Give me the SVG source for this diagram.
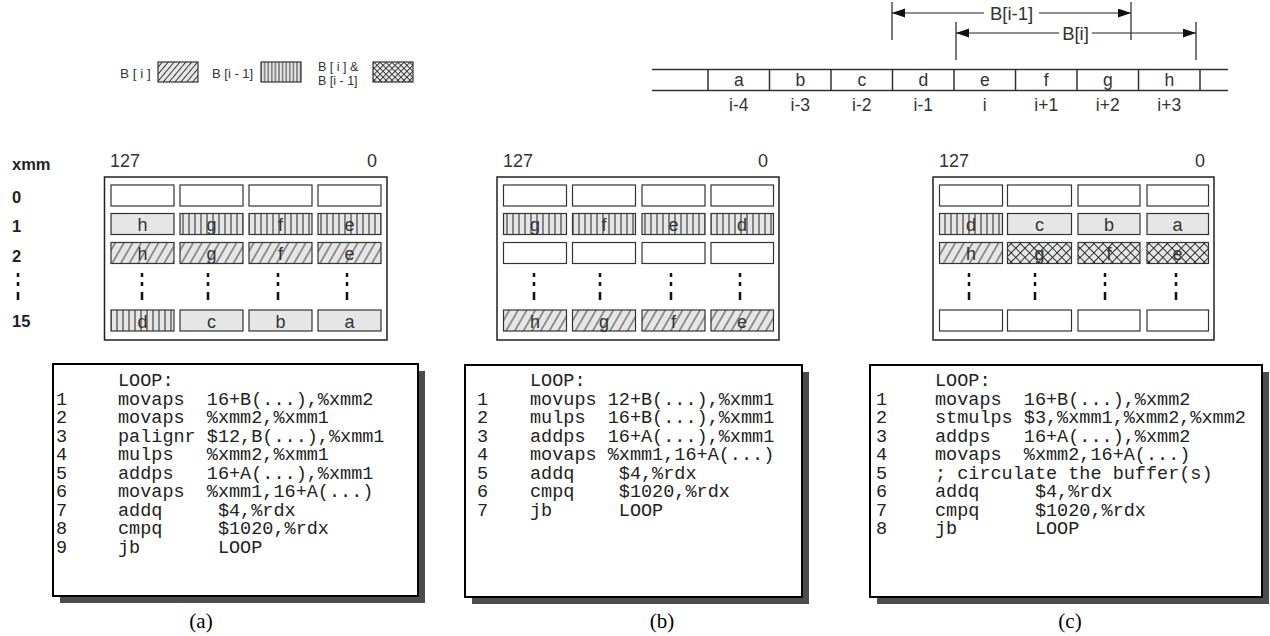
<svg xmlns="http://www.w3.org/2000/svg" width="1270" height="636" viewBox="0 0 1270 636">
<style>
.lbl{font-family:"Liberation Sans",Arial,sans-serif;fill:#333}
.leg{font-size:13.5px}
.top{font-size:17.5px;text-anchor:middle}
.arr{font-size:18.5px;text-anchor:middle}
.bit{font-size:18px}
.rl{font-family:"Liberation Sans",Arial,sans-serif;font-weight:bold;font-size:16.5px;fill:#222}
.ct{font-family:"Liberation Sans",Arial,sans-serif;font-size:18px;fill:#333;text-anchor:middle}
.e{fill:#fff;stroke:#333;stroke-width:1.2}
.g{fill:#e6e6e6;stroke:#333;stroke-width:1.2}
.v{fill:url(#vs);stroke:#333;stroke-width:1.2}
.d{fill:url(#dh);stroke:#333;stroke-width:1.2}
.x{fill:url(#xh);stroke:#333;stroke-width:1.2}
.panel{fill:#fff;stroke:#222;stroke-width:1.5}
.dots{stroke:#111;stroke-width:2.5}
.code{font-family:"Liberation Mono","Courier New",monospace;font-size:18.5px;fill:#222;white-space:pre}
.box{fill:#fff;stroke:#000;stroke-width:2}
.shadow{fill:#4d4d4d}
.cap{font-family:"Liberation Serif","Times New Roman",serif;font-size:21px;fill:#000;text-anchor:middle}
.ln{stroke:#333;stroke-width:1.5;fill:none}
.thin{stroke:#222;stroke-width:1.2;fill:none}
</style>
<defs>
<pattern id="vs" patternUnits="userSpaceOnUse" width="6" height="10"><rect width="6" height="10" fill="#e6e6e6"/><line x1="3" y1="0" x2="3" y2="10" stroke="#222" stroke-width="1"/></pattern>
<pattern id="dh" patternUnits="userSpaceOnUse" width="7.5" height="8" patternTransform="rotate(30)"><rect width="7.5" height="8" fill="#e6e6e6"/><line x1="3.75" y1="0" x2="3.75" y2="8" stroke="#222" stroke-width="0.9"/></pattern>
<pattern id="xh" patternUnits="userSpaceOnUse" width="6.5" height="6.5" patternTransform="rotate(45)"><rect width="6.5" height="6.5" fill="#e6e6e6"/><path d="M3.25,0V6.5M0,3.25H6.5" stroke="#222" stroke-width="0.9"/></pattern>
<pattern id="vsL" patternUnits="userSpaceOnUse" width="3.6" height="10"><rect width="3.6" height="10" fill="#e6e6e6"/><line x1="1.8" y1="0" x2="1.8" y2="10" stroke="#222" stroke-width="0.9"/></pattern>
<pattern id="dhL" patternUnits="userSpaceOnUse" width="4.5" height="8" patternTransform="rotate(40)"><rect width="4.5" height="8" fill="#e6e6e6"/><line x1="2.25" y1="0" x2="2.25" y2="8" stroke="#222" stroke-width="0.9"/></pattern>
<pattern id="xhL" patternUnits="userSpaceOnUse" width="4.2" height="4.2" patternTransform="rotate(45)"><rect width="4.2" height="4.2" fill="#e6e6e6"/><path d="M2.1,0V4.2M0,2.1H4.2" stroke="#222" stroke-width="0.8"/></pattern>
<marker id="ah" markerUnits="userSpaceOnUse" markerWidth="14" markerHeight="10" refX="13" refY="4.5" orient="auto-start-reverse"><path d="M0,0L13,4.5L0,9z" fill="#111"/></marker>
</defs>

<g id="legend">
<text class="lbl leg" x="120" y="77.5">B [ i ]</text>
<rect x="158" y="62" width="40" height="20" fill="url(#dhL)" stroke="#333" stroke-width="1.2"/>
<text class="lbl" x="212" y="77.5" font-size="13">B [i - 1]</text>
<rect x="261" y="62" width="40" height="20" fill="url(#vsL)" stroke="#333" stroke-width="1.2"/>
<text class="lbl" x="318" y="70.5" font-size="12.5">B [ i ] &amp;</text>
<text class="lbl" x="318" y="85" font-size="12.5">B [i - 1]</text>
<rect x="373" y="62" width="40" height="20" fill="url(#xhL)" stroke="#333" stroke-width="1.2"/>
</g>

<g id="array">
<line class="ln" x1="652" y1="69.5" x2="1228" y2="69.5"/>
<line class="ln" x1="652" y1="90.5" x2="1228" y2="90.5"/>
<path class="ln" d="M708,69.5V90.5M769.5,69.5V90.5M831,69.5V90.5M892.5,69.5V90.5M954,69.5V90.5M1015.5,69.5V90.5M1077,69.5V90.5M1138.5,69.5V90.5M1200,69.5V90.5"/>
<text class="lbl top" x="738.75" y="86">a</text>
<text class="lbl top" x="800.25" y="86">b</text>
<text class="lbl top" x="861.75" y="86">c</text>
<text class="lbl top" x="923.25" y="86">d</text>
<text class="lbl top" x="984.75" y="86">e</text>
<text class="lbl top" x="1046.25" y="86">f</text>
<text class="lbl top" x="1107.75" y="86">g</text>
<text class="lbl top" x="1169.25" y="86">h</text>
<text class="lbl top" x="738.75" y="111">i-4</text>
<text class="lbl top" x="800.25" y="111">i-3</text>
<text class="lbl top" x="861.75" y="111">i-2</text>
<text class="lbl top" x="923.25" y="111">i-1</text>
<text class="lbl top" x="984.75" y="111">i</text>
<text class="lbl top" x="1046.25" y="111">i+1</text>
<text class="lbl top" x="1107.75" y="111">i+2</text>
<text class="lbl top" x="1169.25" y="111">i+3</text>
</g>

<g id="connectors">
<line class="thin" x1="892" y1="2" x2="892" y2="40"/>
<line class="thin" x1="1131" y1="2" x2="1131" y2="40"/>
<line class="thin" x1="956" y1="22" x2="956" y2="60"/>
<line class="thin" x1="1196" y1="22" x2="1196" y2="60"/>
<line class="thin" x1="892" y1="13" x2="1131" y2="13" marker-start="url(#ah)" marker-end="url(#ah)"/>
<rect x="984" y="2" width="55" height="20" fill="#fff"/>
<text class="lbl arr" x="1011.5" y="20">B[i-1]</text>
<line class="thin" x1="956" y1="33" x2="1196" y2="33" marker-start="url(#ah)" marker-end="url(#ah)"/>
<rect x="1059" y="22" width="33" height="20" fill="#fff"/>
<text class="lbl arr" x="1075.5" y="40">B[i]</text>
</g>

<g id="rowlabels">
<text class="rl" x="12" y="170">xmm</text>
<text class="rl" x="12" y="203">0</text>
<text class="rl" x="12" y="232">1</text>
<text class="rl" x="12" y="261.5">2</text>
<path class="dots" d="M18,273V277M18,282V286M18,292V300"/>
<text class="rl" x="12" y="327">15</text>
</g>

<g id="panel-a">
<text class="lbl bit" x="110" y="167">127</text>
<text class="lbl bit" x="377" y="167" text-anchor="end">0</text>
<rect class="panel" x="104.5" y="177" width="282.5" height="163"/>
<rect class="e" x="111" y="185" width="63" height="21"/><rect class="e" x="180" y="185" width="63" height="21"/><rect class="e" x="249" y="185" width="63" height="21"/><rect class="e" x="318" y="185" width="63" height="21"/>
<rect class="g" x="111" y="213.5" width="63" height="21"/><rect class="v" x="180" y="213.5" width="63" height="21"/><rect class="v" x="249" y="213.5" width="63" height="21"/><rect class="v" x="318" y="213.5" width="63" height="21"/>
<text class="ct" x="142.5" y="231">h</text><text class="ct" x="211.5" y="231">g</text><text class="ct" x="280.5" y="231">f</text><text class="ct" x="349.5" y="231">e</text>
<rect class="d" x="111" y="242.5" width="63" height="21"/><rect class="d" x="180" y="242.5" width="63" height="21"/><rect class="d" x="249" y="242.5" width="63" height="21"/><rect class="d" x="318" y="242.5" width="63" height="21"/>
<text class="ct" x="142.5" y="260">h</text><text class="ct" x="211.5" y="260">g</text><text class="ct" x="280.5" y="260">f</text><text class="ct" x="349.5" y="260">e</text>
<path class="dots" d="M142,273V277M142,282V286M142,292V300M208,273V277M208,282V286M208,292V300M278,273V277M278,282V286M278,292V300M347,273V277M347,282V286M347,292V300"/>
<rect class="v" x="111" y="310" width="63" height="21"/><rect class="g" x="180" y="310" width="63" height="21"/><rect class="g" x="249" y="310" width="63" height="21"/><rect class="g" x="318" y="310" width="63" height="21"/>
<text class="ct" x="142.5" y="327.5">d</text><text class="ct" x="211.5" y="327.5">c</text><text class="ct" x="280.5" y="327.5">b</text><text class="ct" x="349.5" y="327.5">a</text>
</g>

<g id="panel-b">
<text class="lbl bit" x="503" y="167">127</text>
<text class="lbl bit" x="768" y="167" text-anchor="end">0</text>
<rect class="panel" x="497" y="177" width="282" height="163"/>
<rect class="e" x="503.5" y="185" width="63" height="21"/><rect class="e" x="572.5" y="185" width="63" height="21"/><rect class="e" x="642" y="185" width="63" height="21"/><rect class="e" x="711" y="185" width="62.5" height="21"/>
<rect class="v" x="503.5" y="213.5" width="63" height="21"/><rect class="v" x="572.5" y="213.5" width="63" height="21"/><rect class="v" x="642" y="213.5" width="63" height="21"/><rect class="v" x="711" y="213.5" width="62.5" height="21"/>
<text class="ct" x="535" y="231">g</text><text class="ct" x="604" y="231">f</text><text class="ct" x="673.5" y="231">e</text><text class="ct" x="742" y="231">d</text>
<rect class="e" x="503.5" y="242.5" width="63" height="21"/><rect class="e" x="572.5" y="242.5" width="63" height="21"/><rect class="e" x="642" y="242.5" width="63" height="21"/><rect class="e" x="711" y="242.5" width="62.5" height="21"/>
<path class="dots" d="M534,273V277M534,282V286M534,292V300M600,273V277M600,282V286M600,292V300M671,273V277M671,282V286M671,292V300M740,273V277M740,282V286M740,292V300"/>
<rect class="d" x="503.5" y="310" width="63" height="21"/><rect class="d" x="572.5" y="310" width="63" height="21"/><rect class="d" x="642" y="310" width="63" height="21"/><rect class="d" x="711" y="310" width="62.5" height="21"/>
<text class="ct" x="535" y="327.5">h</text><text class="ct" x="604" y="327.5">g</text><text class="ct" x="673.5" y="327.5">f</text><text class="ct" x="742" y="327.5">e</text>
</g>

<g id="panel-c">
<text class="lbl bit" x="939" y="167">127</text>
<text class="lbl bit" x="1205" y="167" text-anchor="end">0</text>
<rect class="panel" x="933" y="177" width="281" height="163"/>
<rect class="e" x="939.5" y="185" width="63" height="21"/><rect class="e" x="1007.5" y="185" width="64" height="21"/><rect class="e" x="1078" y="185" width="62" height="21"/><rect class="e" x="1147" y="185" width="61.5" height="21"/>
<rect class="v" x="939.5" y="213.5" width="63" height="21"/><rect class="g" x="1007.5" y="213.5" width="64" height="21"/><rect class="g" x="1078" y="213.5" width="62" height="21"/><rect class="g" x="1147" y="213.5" width="61.5" height="21"/>
<text class="ct" x="971" y="231">d</text><text class="ct" x="1039.5" y="231">c</text><text class="ct" x="1109" y="231">b</text><text class="ct" x="1177.5" y="231">a</text>
<rect class="d" x="939.5" y="242.5" width="63" height="21"/><rect class="x" x="1007.5" y="242.5" width="64" height="21"/><rect class="x" x="1078" y="242.5" width="62" height="21"/><rect class="x" x="1147" y="242.5" width="61.5" height="21"/>
<text class="ct" x="971" y="260">h</text><text class="ct" x="1039.5" y="260">g</text><text class="ct" x="1109" y="260">f</text><text class="ct" x="1177.5" y="260">e</text>
<path class="dots" d="M969,273V277M969,282V286M969,292V300M1035,273V277M1035,282V286M1035,292V300M1105,273V277M1105,282V286M1105,292V300M1176,273V277M1176,282V286M1176,292V300"/>
<rect class="e" x="939.5" y="310" width="63" height="21"/><rect class="e" x="1007.5" y="310" width="64" height="21"/><rect class="e" x="1078" y="310" width="62" height="21"/><rect class="e" x="1147" y="310" width="61.5" height="21"/>
</g>

<g id="code-a">
<rect class="shadow" x="60" y="371" width="365" height="232"/>
<rect class="box" x="53" y="364" width="365" height="232"/>
<text class="code" x="118" y="386">LOOP:</text>
<text class="code" x="56" y="404.5">1</text><text class="code" x="118" y="404.5" xml:space="preserve">movaps  16+B(...),%xmm2</text>
<text class="code" x="56" y="423">2</text><text class="code" x="118" y="423" xml:space="preserve">movaps  %xmm2,%xmm1</text>
<text class="code" x="56" y="441.5">3</text><text class="code" x="118" y="441.5" xml:space="preserve">palignr $12,B(...),%xmm1</text>
<text class="code" x="56" y="460">4</text><text class="code" x="118" y="460" xml:space="preserve">mulps   %xmm2,%xmm1</text>
<text class="code" x="56" y="478.5">5</text><text class="code" x="118" y="478.5" xml:space="preserve">addps   16+A(...),%xmm1</text>
<text class="code" x="56" y="497">6</text><text class="code" x="118" y="497" xml:space="preserve">movaps  %xmm1,16+A(...)</text>
<text class="code" x="56" y="515.5">7</text><text class="code" x="118" y="515.5" xml:space="preserve">addq     $4,%rdx</text>
<text class="code" x="56" y="534">8</text><text class="code" x="118" y="534" xml:space="preserve">cmpq     $1020,%rdx</text>
<text class="code" x="56" y="552.5">9</text><text class="code" x="118" y="552.5" xml:space="preserve">jb       LOOP</text>
<text class="cap" x="201" y="628">(a)</text>
</g>

<g id="code-b">
<rect class="shadow" x="472" y="372" width="337" height="232"/>
<rect class="box" x="465" y="365" width="337" height="232"/>
<text class="code" x="530" y="386">LOOP:</text>
<text class="code" x="477" y="404.5">1</text><text class="code" x="530" y="404.5" xml:space="preserve">movups 12+B(...),%xmm1</text>
<text class="code" x="477" y="423">2</text><text class="code" x="530" y="423" xml:space="preserve">mulps  16+B(...),%xmm1</text>
<text class="code" x="477" y="441.5">3</text><text class="code" x="530" y="441.5" xml:space="preserve">addps  16+A(...),%xmm1</text>
<text class="code" x="477" y="460">4</text><text class="code" x="530" y="460" xml:space="preserve">movaps %xmm1,16+A(...)</text>
<text class="code" x="477" y="478.5">5</text><text class="code" x="530" y="478.5" xml:space="preserve">addq    $4,%rdx</text>
<text class="code" x="477" y="497">6</text><text class="code" x="530" y="497" xml:space="preserve">cmpq    $1020,%rdx</text>
<text class="code" x="477" y="515.5">7</text><text class="code" x="530" y="515.5" xml:space="preserve">jb      LOOP</text>
<text class="cap" x="662" y="628">(b)</text>
</g>

<g id="code-c">
<rect class="shadow" x="877" y="372" width="392" height="232"/>
<rect class="box" x="870" y="365" width="392" height="232"/>
<text class="code" x="935" y="386">LOOP:</text>
<text class="code" x="876" y="404.5">1</text><text class="code" x="935" y="404.5" xml:space="preserve">movaps  16+B(...),%xmm2</text>
<text class="code" x="876" y="423">2</text><text class="code" x="935" y="423" xml:space="preserve">stmulps $3,%xmm1,%xmm2,%xmm2</text>
<text class="code" x="876" y="441.5">3</text><text class="code" x="935" y="441.5" xml:space="preserve">addps   16+A(...),%xmm2</text>
<text class="code" x="876" y="460">4</text><text class="code" x="935" y="460" xml:space="preserve">movaps  %xmm2,16+A(...)</text>
<text class="code" x="876" y="478.5">5</text><text class="code" x="935" y="478.5" xml:space="preserve">; circulate the buffer(s)</text>
<text class="code" x="876" y="497">6</text><text class="code" x="935" y="497" xml:space="preserve">addq     $4,%rdx</text>
<text class="code" x="876" y="515.5">7</text><text class="code" x="935" y="515.5" xml:space="preserve">cmpq     $1020,%rdx</text>
<text class="code" x="876" y="534">8</text><text class="code" x="935" y="534" xml:space="preserve">jb       LOOP</text>
<text class="cap" x="1070" y="628">(c)</text>
</g>
</svg>
